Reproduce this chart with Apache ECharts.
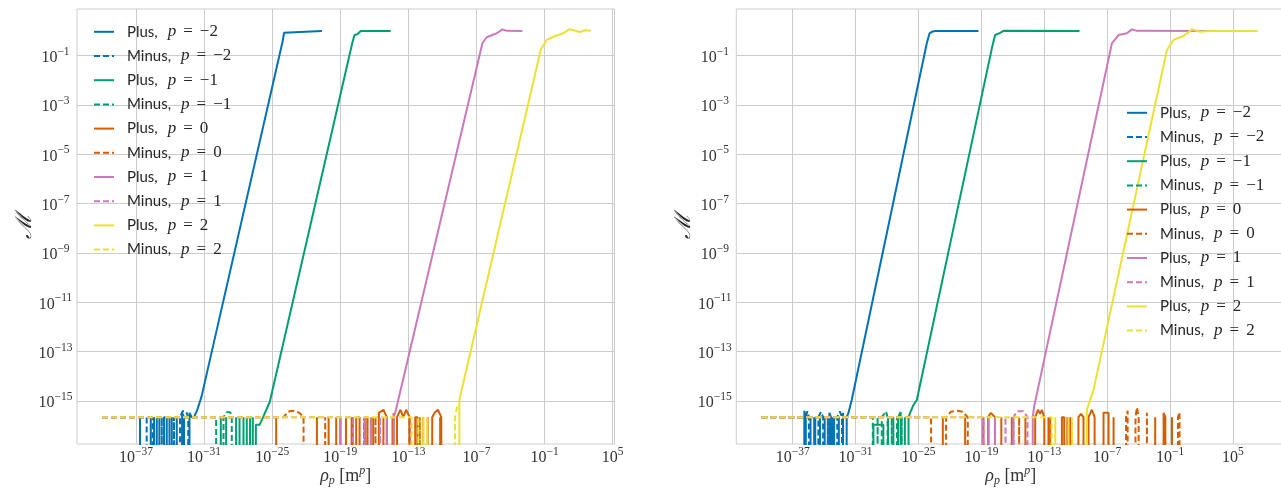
<!DOCTYPE html>
<html><head><meta charset="utf-8">
<script src="https://cdn.jsdelivr.net/npm/echarts@6/dist/echarts.min.js"></script>
<style>html,body{margin:0;padding:0;background:#fff}#c{width:1281px;height:489px}</style>
</head><body><div id="c"></div>
<script>
// ---------- DATA: points are [log10(rho_p), M]; M = 0 is drawn clipped below the axis ----------
const xTickExps = [-37, -31, -25, -19, -13, -7, -1, 5];
const yTickExps = [-15, -13, -11, -9, -7, -5, -3, -1];
const pLabels = ['−2', '−1', '0', '1', '2'];
const kinds = ['Plus', 'Minus'];

// Left panel
const plusM2L = [[-36.9,0],[-36.65,2.2e-16],[-36.3,0],[-35.7,2.2e-16],[-35.55,0],[-35.41,2.2e-16],[-35.3,0],[-35.17,2.2e-16],[-35.05,0],[-34.94,2.2e-16],[-34.7,0],[-34.53,2.2e-16],[-34.29,2.2e-16],[-34.15,0],[-33.85,2.2e-16],[-33.6,0],[-33.41,2.2e-16],[-33.26,2.2e-16],[-33.1,0],[-32.94,3.3e-16],[-32.77,2.2e-16],[-32.5,0],[-32.29,3.3e-16],[-32.09,2.2e-16],[-31.89,2.2e-16],[-31.6,4.4e-16],[-31.23,1.5e-15],[-24.1,0.35],[-23.95,0.85],[-23.8,1],[-20.62,1]];
const minusM2L = [[-40,2.2e-16],[-36.06,2.2e-16],[-35.9,0],[-35.53,2.2e-16],[-35.3,0],[-34.73,2.2e-16],[-34.6,0],[-34.05,2.2e-16],[-33.9,0],[-33.65,2.2e-16],[-33.5,0],[-33.12,2.2e-16],[-32.9,3.8e-16],[-32.6,3.8e-16],[-32.4,2.2e-16],[-32.25,0]];
const plusM1L = [[-29.3,0],[-29.06,2.2e-16],[-28.7,0],[-28.18,2.2e-16],[-28.0,0],[-27.88,2.2e-16],[-27.7,0],[-27.53,2.2e-16],[-27.2,0],[-26.95,2.2e-16],[-26.7,0],[-26.44,1.1e-16],[-26.1,1.1e-16],[-25.8,2.2e-16],[-25.21,9.3e-16],[-17.95,0.32],[-17.75,0.69],[-17.5,0.74],[-17.2,1],[-14.56,1]];
const minusM1L = [[-40,2.2e-16],[-29.94,2.2e-16],[-29.75,0],[-29.53,2.2e-16],[-29.4,0],[-29.29,2.2e-16],[-29.0,3.5e-16],[-28.7,3.5e-16],[-28.56,2.2e-16],[-28.45,0],[-28.25,0],[-27.24,2.2e-16],[-27.1,0],[-26.71,2.2e-16],[-26.55,0]];
const plus0L = [[-24.9,0],[-24.65,2.2e-16],[-24.3,0],[-21.3,0],[-21.06,2.2e-16],[-20.7,0],[-20.03,2.2e-16],[-19.7,0],[-19.36,2.2e-16],[-19.1,0],[-18.7,0],[-18.5,2.2e-16],[-18.3,0],[-18.0,2.2e-16],[-17.8,0],[-17.6,2.2e-16],[-17.3,2.2e-16],[-17.1,0],[-16.8,2.2e-16],[-16.6,2.2e-16],[-16.4,0],[-16.1,2.2e-16],[-15.95,0],[-15.6,3.3e-16],[-15.2,4.4e-16],[-14.9,2.2e-16],[-14.6,0],[-14.4,2.2e-16],[-14.25,0],[-14.0,2.2e-16],[-13.7,4.4e-16],[-13.45,2.2e-16],[-13.2,4.4e-16],[-12.9,2.2e-16],[-12.6,0],[-12.4,2.2e-16],[-12.2,2.2e-16],[-12.0,0],[-11.7,2.2e-16],[-11.5,0],[-11.3,2.2e-16],[-11.1,0],[-10.9,2.2e-16],[-10.7,3.3e-16],[-10.4,4.4e-16],[-10.1,2.2e-16],[-9.8,0]];
const minus0L = [[-40,2.2e-16],[-24.0,2.2e-16],[-23.6,3.7e-16],[-23.1,4.0e-16],[-22.6,3.3e-16],[-22.24,2.2e-16],[-22.0,0],[-20.33,2.2e-16],[-20.1,0],[-19.0,2.2e-16],[-18.7,0],[-17.9,2.2e-16],[-17.6,0],[-16.9,2.2e-16],[-16.6,0],[-15.9,2.2e-16],[-15.7,0],[-15.2,2.2e-16],[-14.9,0],[-14.3,3.3e-16],[-14.1,0],[-12.9,2.2e-16],[-12.7,0],[-12.0,2.2e-16],[-11.7,0],[-10.2,2.2e-16],[-9.9,0]];
const plus1L = [[-19.2,0],[-18.97,2.2e-16],[-18.75,0],[-17.1,0],[-16.85,2.2e-16],[-16.6,0],[-16.3,2.2e-16],[-16.1,0],[-14.5,0],[-14.3,2.2e-16],[-14.1,4.3e-16],[-6.48,0.32],[-6.1,0.56],[-5.21,0.81],[-4.72,1.17],[-4.33,1.02],[-2.96,1.0]];
const minus1L = [[-40,2.2e-16],[-17.89,2.2e-16],[-17.7,0],[-15.7,0],[-15.5,2.2e-16],[-15.3,0],[-14.9,2.2e-16],[-14.75,0]];
const plus2L = [[-8.75,0],[-8.51,1.1e-15],[-1.33,0.18],[-0.8,0.44],[-0.07,0.63],[0.66,0.81],[1.19,1.2],[2.07,0.91],[2.57,1.07],[3.08,1.02]];
const minus2L = [[-40,2.2e-16],[-12.71,2.2e-16],[-12.55,0],[-12.13,2.2e-16],[-11.95,0],[-11.69,2.2e-16],[-11.5,0],[-11.33,2.2e-16],[-11.15,0],[-9.1,0],[-8.89,2.2e-16],[-8.7,6e-16]];

// Right panel
const plusM2R = [[-36.1,0],[-35.89,4.0e-16],[-35.75,2.2e-16],[-35.6,0],[-35.3,2.2e-16],[-35.1,0],[-34.85,2.2e-16],[-34.7,2.2e-16],[-34.55,0],[-34.4,2.2e-16],[-34.2,0],[-33.95,2.2e-16],[-33.8,0],[-33.5,3.3e-16],[-33.35,2.2e-16],[-33.2,0],[-33.05,2.2e-16],[-32.85,0],[-32.6,2.2e-16],[-32.45,0],[-32.2,3.3e-16],[-32.05,0],[-31.85,2.2e-16],[-31.69,3.2e-16],[-31.37,1.1e-15],[-24.21,0.32],[-23.95,0.8],[-23.73,0.93],[-23.4,1],[-19.28,1]];
const minusM2R = [[-40,2.2e-16],[-35.75,2.2e-16],[-35.6,3.8e-16],[-35.45,2.2e-16],[-35.3,0],[-34.95,2.2e-16],[-34.8,0],[-34.55,2.2e-16],[-34.3,3.6e-16],[-34.1,2.2e-16],[-33.95,0],[-33.65,2.2e-16],[-33.5,0],[-33.2,2.2e-16],[-32.9,0],[-32.75,2.2e-16],[-32.5,3.8e-16],[-32.3,2.2e-16],[-32.15,0]];
const plusM1R = [[-29.5,0],[-29.3,1.1e-16],[-28.35,1.1e-16],[-28.2,0],[-27.9,2.2e-16],[-27.7,0],[-27.4,2.2e-16],[-27.2,0],[-26.95,2.2e-16],[-26.7,3.6e-16],[-26.5,0],[-26.3,2.2e-16],[-26.1,0],[-25.95,2.2e-16],[-25.81,3.2e-16],[-25.49,6.8e-16],[-25.16,1.1e-15],[-17.95,0.25],[-17.69,0.69],[-17.21,0.85],[-16.9,1.02],[-9.64,1]];
const minusM1R = [[-40,2.2e-16],[-29.36,2.2e-16],[-29.2,0],[-28.9,2.2e-16],[-28.75,0],[-28.5,2.2e-16],[-28.1,3.8e-16],[-27.95,2.2e-16],[-27.8,0],[-27.55,2.2e-16],[-27.3,0],[-27.05,2.2e-16],[-26.85,0],[-26.6,2.2e-16],[-26.45,0]];
const plus0R = [[-22.9,0],[-22.68,2.2e-16],[-22.5,0],[-20.75,0],[-20.55,2.2e-16],[-20.4,0],[-18.6,0],[-18.36,2.2e-16],[-18.1,3.3e-16],[-17.7,2.2e-16],[-17.5,0],[-16.3,0],[-16.1,2.2e-16],[-15.9,0],[-15.0,0],[-14.8,2.2e-16],[-14.6,0],[-14.1,0],[-13.87,2.2e-16],[-13.6,4.4e-16],[-13.4,3.0e-16],[-13.23,4.4e-16],[-13.0,2.2e-16],[-12.8,0],[-12.44,2.2e-16],[-12.3,0],[-11.55,0],[-11.32,2.2e-16],[-11.1,2.2e-16],[-10.9,0],[-10.53,2.2e-16],[-10.35,0],[-9.74,2.2e-16],[-9.5,3.0e-16],[-9.26,2.2e-16],[-9.1,0],[-8.78,2.2e-16],[-8.46,4.4e-16],[-8.2,2.2e-16],[-8.0,0],[-7.55,0],[-7.35,3.3e-16],[-6.87,3.3e-16],[-6.7,0],[-6.39,2.2e-16],[-6.2,0],[-2.6,0],[-2.42,2.2e-16],[-2.25,0],[-1.8,0],[-1.62,3.3e-16],[-1.45,2.2e-16],[-1.3,0],[-1.0,0],[-0.82,2.2e-16],[-0.65,0]];
const minus0R = [[-40,2.2e-16],[-23.8,2.2e-16],[-23.6,0],[-22.5,0],[-22.37,2.2e-16],[-21.9,3.7e-16],[-21.3,4.0e-16],[-20.8,3.7e-16],[-20.3,2.2e-16],[-20.15,0],[-19.0,0],[-18.8,2.2e-16],[-18.6,0],[-17.3,0],[-17.1,2.2e-16],[-16.9,0],[-15.6,0],[-15.4,2.2e-16],[-15.2,0],[-12.8,0],[-12.6,2.2e-16],[-12.4,0],[-11.0,0],[-10.8,2.2e-16],[-10.6,0],[-5.4,0],[-5.2,2.2e-16],[-5.05,4.0e-16],[-4.9,0],[-4.5,0],[-4.3,2.2e-16],[-4.16,5.5e-16],[-4.0,2.2e-16],[-3.85,0],[-3.4,0],[-3.21,3.3e-16],[-3.05,0],[-0.4,0],[-0.25,2.2e-16],[-0.1,3.5e-16],[0.05,0]];
const plus1R = [[-19.1,0],[-18.9,2.2e-16],[-18.7,0],[-17.9,0],[-17.7,2.2e-16],[-17.5,0],[-16.2,0],[-15.94,2.2e-16],[-15.8,0],[-14.3,0],[-14.1,2.2e-16],[-13.97,5.9e-16],[-6.55,0.32],[-5.92,0.69],[-5.12,0.81],[-4.64,1.17],[-4.16,1.02],[3.0,1.0]];
const minus1R = [[-40,2.2e-16],[-18.8,2.2e-16],[-18.6,0],[-18.3,2.2e-16],[-18.1,0],[-16.9,0],[-16.7,2.2e-16],[-16.5,0],[-15.94,2.2e-16],[-15.6,3.8e-16],[-15.0,3.8e-16],[-14.6,2.2e-16],[-14.45,0]];
const plus2R = [[-9.1,0],[-8.94,4.3e-16],[-8.79,6.8e-16],[-8.31,2.75e-15],[-1.3,0.17],[-0.67,0.44],[0.28,0.63],[1.09,1.17],[1.88,0.93],[2.83,1.0],[7.35,1.0]];
const minus2R = [[-40,2.2e-16],[-12.3,2.2e-16],[-12.15,0],[-11.95,2.2e-16],[-11.8,0],[-10.85,0],[-10.7,2.2e-16],[-10.55,0],[-10.35,2.2e-16],[-10.2,0]];

// ---------- STYLE ----------
const colors = ['#0173b2', '#029e73', '#d55e00', '#cc78bc', '#ece133'];
const panels = [
  [[plusM2L, minusM2L], [plusM1L, minusM1L], [plus0L, minus0L], [plus1L, minus1L], [plus2L, minus2L]],
  [[plusM2R, minusM2R], [plusM1R, minusM1R], [plus0R, minus0R], [plus1R, minus1R], [plus2R, minus2R]]
];
const ZERO_FLOOR = -300;
const toLog = arr => arr.map(([x, v]) => [x, v > 0 ? Math.log10(v) : ZERO_FLOOR]);
const names = [];
pLabels.forEach(p => kinds.forEach(k => names.push(k + ', p = ' + p)));

const GRID = '#cccccc';
const TXT = '#333333';
const SERIF = '"Liberation Serif", "DejaVu Serif", serif';
const SANS = 'Lato, "Open Sans", sans-serif';
const tickRich = {
  b: { fontFamily: SERIF, fontSize: 16, lineHeight: 20, color: TXT, verticalAlign: 'bottom' },
  s: { fontFamily: SERIF, fontSize: 11.5, lineHeight: 14, color: TXT, verticalAlign: 'top' }
};
const tickFmt = v => '{b|10}{s|' + (v < 0 ? '−' + Math.abs(v) : String(v)) + '}';

const grids = [
  { left: 77, top: 9, width: 537.5, height: 435 },
  { left: 736.3, top: 9, width: 549, height: 435 }
];
const xRanges = [[-42.2, 5.16], [-42.38, 9.99]];
const yRange = [-16.744, 0.894];

const xAxes = [], yAxes = [], series = [], legends = [];
grids.forEach((g, gi) => {
  xAxes.push({
    gridIndex: gi, type: 'value', min: xRanges[gi][0], max: xRanges[gi][1],
    axisLine: { show: false }, axisTick: { show: false, customValues: xTickExps },
    axisLabel: { customValues: xTickExps, formatter: tickFmt, rich: tickRich, margin: 2 },
    splitLine: { show: true, lineStyle: { color: GRID, width: 1 } },
    name: '{r|ρ}{sb|p}{t| [m}{sp|p}{t|]}', nameLocation: 'middle', nameGap: 21, nameMoveOverlap: false,
    nameTextStyle: { rich: {
      r: { fontFamily: SERIF, fontStyle: 'italic', fontSize: 18, lineHeight: 22, color: TXT },
      sb: { fontFamily: SERIF, fontStyle: 'italic', fontSize: 12, lineHeight: 22, color: TXT, verticalAlign: 'bottom' },
      t: { fontFamily: SERIF, fontSize: 18, lineHeight: 22, color: TXT },
      sp: { fontFamily: SERIF, fontStyle: 'italic', fontSize: 12, lineHeight: 14, color: TXT, verticalAlign: 'top' }
    } }
  });
  yAxes.push({
    gridIndex: gi, type: 'value', min: yRange[0], max: yRange[1],
    axisLine: { show: false }, axisTick: { show: false, customValues: yTickExps },
    axisLabel: { customValues: yTickExps, formatter: tickFmt, rich: tickRich, margin: 21.5, align: 'center' },
    splitLine: { show: true, lineStyle: { color: GRID, width: 1 } },
    name: 'ℳ', nameLocation: 'middle', nameGap: 41, nameRotate: 90, nameMoveOverlap: false,
    nameTextStyle: { fontFamily: '"DejaVu Serif", serif', fontStyle: 'italic', fontSize: 22, color: '#222' }
  });
  panels[gi].forEach((pair, pi) => {
    pair.forEach((arr, ki) => {
      series.push({
        name: names[pi * 2 + ki], type: 'line', xAxisIndex: gi, yAxisIndex: gi,
        data: toLog(arr), symbol: 'none', showSymbol: false, clip: true,
        animation: false, silent: true,
        itemStyle: { color: colors[pi] },
        lineStyle: { color: colors[pi], width: 2, type: ki === 0 ? 'solid' : [6, 3] }
      });
    });
  });
});

const legendRich = {
  g0: { width: 8 },
  k: { fontFamily: SANS, fontSize: 15, color: '#262626', lineHeight: 18 },
  g1: { width: 10 },
  i: { fontFamily: SERIF, fontStyle: 'italic', fontSize: 17, color: '#262626', lineHeight: 18 },
  e: { fontFamily: SERIF, fontSize: 17, color: '#262626', lineHeight: 18, padding: [0, 7, 0, 7] },
  v: { fontFamily: SERIF, fontSize: 17, color: '#262626', lineHeight: 18 }
};
const legendFmt = name => {
  const kind = name.split(',')[0];
  const val = name.split('= ')[1];
  return '{g0| }{k|' + kind + ',}{g1| }{i|p}{e|=}{v|' + val + '}';
};
[[93, 23.3], [1126, 104.3]].forEach(([l, t]) => {
  legends.push({
    left: l, top: t, orient: 'vertical', padding: 0, itemGap: 7.2,
    itemWidth: 20, itemHeight: 18, selectedMode: false, data: names,
    itemStyle: { color: 'rgba(0,0,0,0)', borderWidth: 0, opacity: 0 },
    formatter: legendFmt, textStyle: { rich: legendRich }
  });
});

const chart = echarts.init(document.getElementById('c'), null, { renderer: 'canvas' });
chart.setOption({
  animation: false,
  backgroundColor: '#ffffff',
  grid: grids.map(g => Object.assign({ show: true, borderColor: GRID, borderWidth: 1, backgroundColor: 'transparent', outerBoundsMode: 'none', containLabel: false }, g)),
  xAxis: xAxes, yAxis: yAxes, legend: legends, series: series
});
</script></body></html>
